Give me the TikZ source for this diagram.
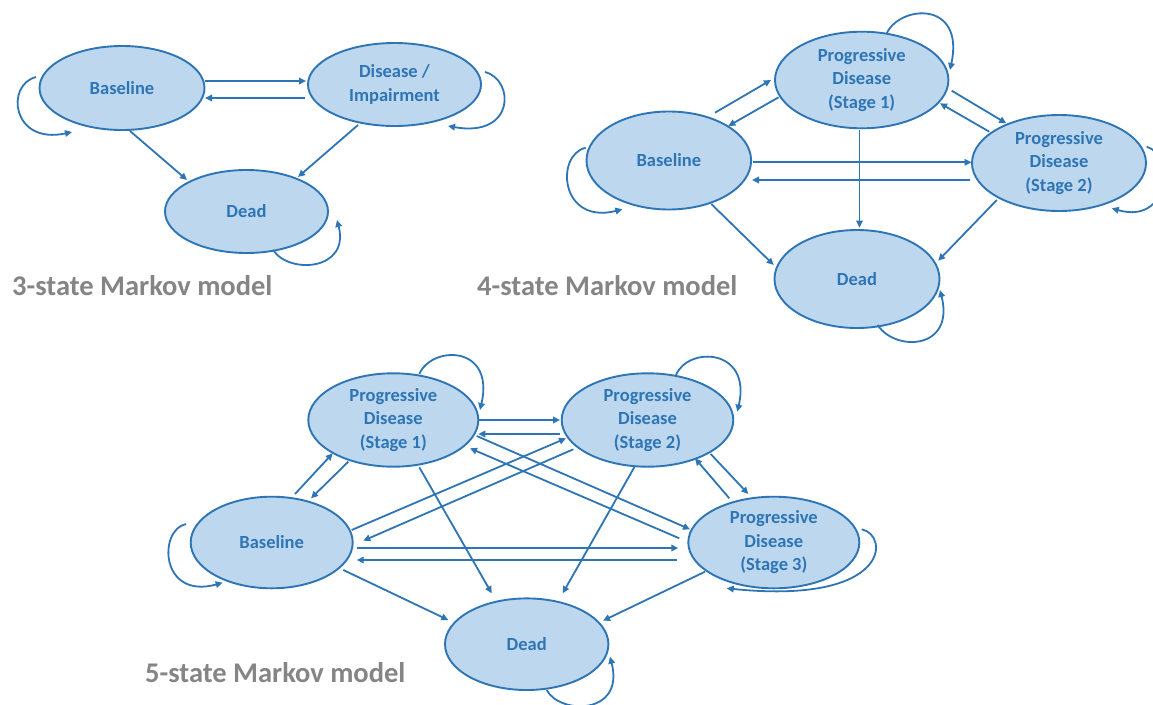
\documentclass[tikz,border=0pt]{standalone}
\usepackage{fontspec}
\setmainfont{Carlito}
\usetikzlibrary{calc,arrows.meta,shapes.geometric}
\definecolor{stateFill}{HTML}{BDD7EE}
\definecolor{stateLine}{HTML}{2E75B6}
\definecolor{titleGray}{HTML}{858585}
\begin{document}
\begin{tikzpicture}[x=1pt,y=-1pt,
  state/.style={ellipse, draw=stateLine, line width=1.9pt, fill=stateFill,
    inner sep=0pt, text=stateLine, align=center,
    font=\fontsize{18.5}{23.5}\selectfont\bfseries},
  trans/.style={draw=stateLine, line width=1.8pt,
    -{Triangle[length=7pt,width=6.5pt]}},
  modeltitle/.style={anchor=base west, inner sep=0pt, text=titleGray,
    font=\fontsize{28.5}{34}\selectfont\bfseries}]
\fill[white] (0,0) rectangle (1153,704);
\useasboundingbox (0,0) rectangle (1153,704);

% ---------------- 3-state model ----------------
\node[state, minimum width=165, minimum height=84] (B3) at (122,88) {Baseline};
\node[state, minimum width=173, minimum height=83] (D3) at (394.5,84.5) {Disease /\\Impairment};
\node[state, minimum width=163, minimum height=83] (X3) at (246.5,211.5) {Dead};
\node[modeltitle] (T3) at (12,295) {3-state Markov model};

\draw[trans] ($(B3)+(83,-7)$) -- ($(D3)+(-88.5,-3.5)$);
\draw[trans] ($(D3)+(-89.5,13.5)$) -- ($(B3)+(83,10)$);
\draw[trans] ($(B3)+(8,43)$) -- ($(X3)+(-59.5,-31.5)$);
\draw[trans] ($(D3)+(-36.5,40.5)$) -- ($(X3)+(51.5,-34.5)$);
\draw[trans] ($(B3)+(-86,-11)$) .. controls ($(B3)+(-117,-3)$) and ($(B3)+(-110,57)$) .. ($(B3)+(-50,44)$);
\draw[trans] ($(D3)+(90.5,-12.5)$) .. controls ($(D3)+(120.5,-4.5)$) and ($(D3)+(120.5,53.5)$) .. ($(D3)+(53.5,41.5)$);
\draw[trans] ($(X3)+(26.5,38.5)$) .. controls ($(X3)+(43.5,63.5)$) and ($(X3)+(103.5,58.5)$) .. ($(X3)+(90.5,8.5)$);

% ---------------- 4-state model ----------------
\node[state, minimum width=164.6, minimum height=98] (B4) at (668.8,160.5) {Baseline};
\node[state, minimum width=173.4, minimum height=96.6] (P41) at (861.7,80) {Progressive\\Disease\\(Stage 1)};
\node[state, minimum width=174, minimum height=96] (P42) at (1059,163) {Progressive\\Disease\\(Stage 2)};
\node[state, minimum width=165, minimum height=98] (X4) at (857,279) {Dead};
\node[modeltitle] (T4) at (477,295) {4-state Markov model};

\draw[trans] ($(B4)+(46.2,-47.8)$) -- ($(P41)+(-90.7,0)$);
\draw[trans] ($(P41)+(-83.1,17.3)$) -- ($(B4)+(59.5,-34.5)$);
\draw[trans] ($(P41)+(90,10.7)$) -- ($(P42)+(-52.7,-39.7)$);
\draw[trans] ($(P42)+(-69.7,-31.3)$) -- ($(P41)+(78.3,23.3)$);
\draw[trans] ($(B4)+(84.1,1.8)$) -- ($(P42)+(-87.5,-0.7)$);
\draw[trans] ($(P42)+(-88.6,17)$) -- ($(B4)+(83.2,19.5)$);
\draw[trans] ($(P41)+(-2.2,50)$) -- ($(X4)+(2.5,-51.3)$);
\draw[trans] ($(B4)+(42.5,43.5)$) -- ($(X4)+(-83.3,-14)$);
\draw[trans] ($(P42)+(-62.2,37)$) -- ($(X4)+(81.2,-18.3)$);
\draw[trans] ($(P41)+(25,-46.7)$) .. controls ($(P41)+(38.3,-75)$) and ($(P41)+(103.3,-80)$) .. ($(P41)+(88.3,-10)$);
\draw[trans] ($(B4)+(-83.1,-12.8)$) .. controls ($(B4)+(-113.8,-5.5)$) and ($(B4)+(-108.8,64.5)$) .. ($(B4)+(-46.4,48.8)$);
\draw[trans] ($(P42)+(87.7,-16.3)$) .. controls ($(P42)+(116,-8)$) and ($(P42)+(111,62)$) .. ($(P42)+(52.7,45.3)$);
\draw[trans] ($(X4)+(20.7,46)$) .. controls ($(X4)+(38,73)$) and ($(X4)+(98,71)$) .. ($(X4)+(83,11)$);

% ---------------- 5-state model ----------------
\node[state, minimum width=170, minimum height=93.4] (P51) at (393.3,420) {Progressive\\Disease\\(Stage 1)};
\node[state, minimum width=171.6, minimum height=93.4] (P52) at (647.5,420) {Progressive\\Disease\\(Stage 2)};
\node[state, minimum width=162, minimum height=91.6] (B5) at (271.7,542.5) {Baseline};
\node[state, minimum width=171, minimum height=91.6] (P53) at (773.8,542.5) {Progressive\\Disease\\(Stage 3)};
\node[state, minimum width=163.4, minimum height=91.6] (X5) at (526.7,644.2) {Dead};
\node[modeltitle] (T5) at (145,682) {5-state Markov model};

\draw[trans] ($(P51)+(85,0)$) -- ($(P52)+(-87.5,0)$);
\draw[trans] ($(P52)+(-87.5,14)$) -- ($(P51)+(85,14)$);
\draw[trans] ($(P51)+(83.4,16)$) -- ($(P53)+(-83.8,-13.2)$);
\draw[trans] ($(P53)+(-94.5,-4.2)$) -- ($(P51)+(76.7,28.3)$);
\draw[trans] ($(B5)+(80,-12.5)$) -- ($(P52)+(-81.5,18.3)$);
\draw[trans] ($(P52)+(-74.2,29.3)$) -- ($(B5)+(91.6,-1.8)$);
\draw[trans] ($(B5)+(85,5.5)$) -- ($(P53)+(-95.5,5.5)$);
\draw[trans] ($(P53)+(-96.5,17.5)$) -- ($(B5)+(85,17.5)$);
\draw[trans] ($(B5)+(23.3,-48.5)$) -- ($(P51)+(-60.6,33.3)$);
\draw[trans] ($(P51)+(-45,41.7)$) -- ($(B5)+(39.3,-44.2)$);
\draw[trans] ($(P52)+(63.2,34)$) -- ($(P53)+(-25.5,-48.5)$);
\draw[trans] ($(P53)+(-44.5,-44.2)$) -- ($(P52)+(47.5,38.3)$);
\draw[trans] ($(P51)+(26,47.3)$) -- ($(X5)+(-35,-50.9)$);
\draw[trans] ($(P52)+(-12.5,46)$) -- ($(X5)+(36,-50.9)$);
\draw[trans] ($(B5)+(71.6,27.5)$) -- ($(X5)+(-78.4,-24.2)$);
\draw[trans] ($(P53)+(-68.8,29.2)$) -- ($(X5)+(76.3,-23.5)$);
\draw[trans] ($(P51)+(26,-46)$) .. controls ($(P51)+(38.7,-75)$) and ($(P51)+(101.7,-75)$) .. ($(P51)+(86.7,-10)$);
\draw[trans] ($(P52)+(28.5,-45)$) .. controls ($(P52)+(40.5,-74)$) and ($(P52)+(104.5,-72)$) .. ($(P52)+(89.8,-8.3)$);
\draw[trans] ($(B5)+(-85.7,-18.5)$) .. controls ($(B5)+(-113.7,-12.5)$) and ($(B5)+(-111.7,57.5)$) .. ($(B5)+(-49,40.2)$);
\draw[trans] ($(P53)+(87.9,-13.2)$) .. controls ($(P53)+(116.2,-7.5)$) and ($(P53)+(116.2,62.5)$) .. ($(P53)+(-47.1,45.8)$);
\draw[trans] ($(X5)+(20,45.8)$) .. controls ($(X5)+(33.3,70.8)$) and ($(X5)+(98.3,70.8)$) .. ($(X5)+(83.3,12.5)$);
\end{tikzpicture}
\end{document}
